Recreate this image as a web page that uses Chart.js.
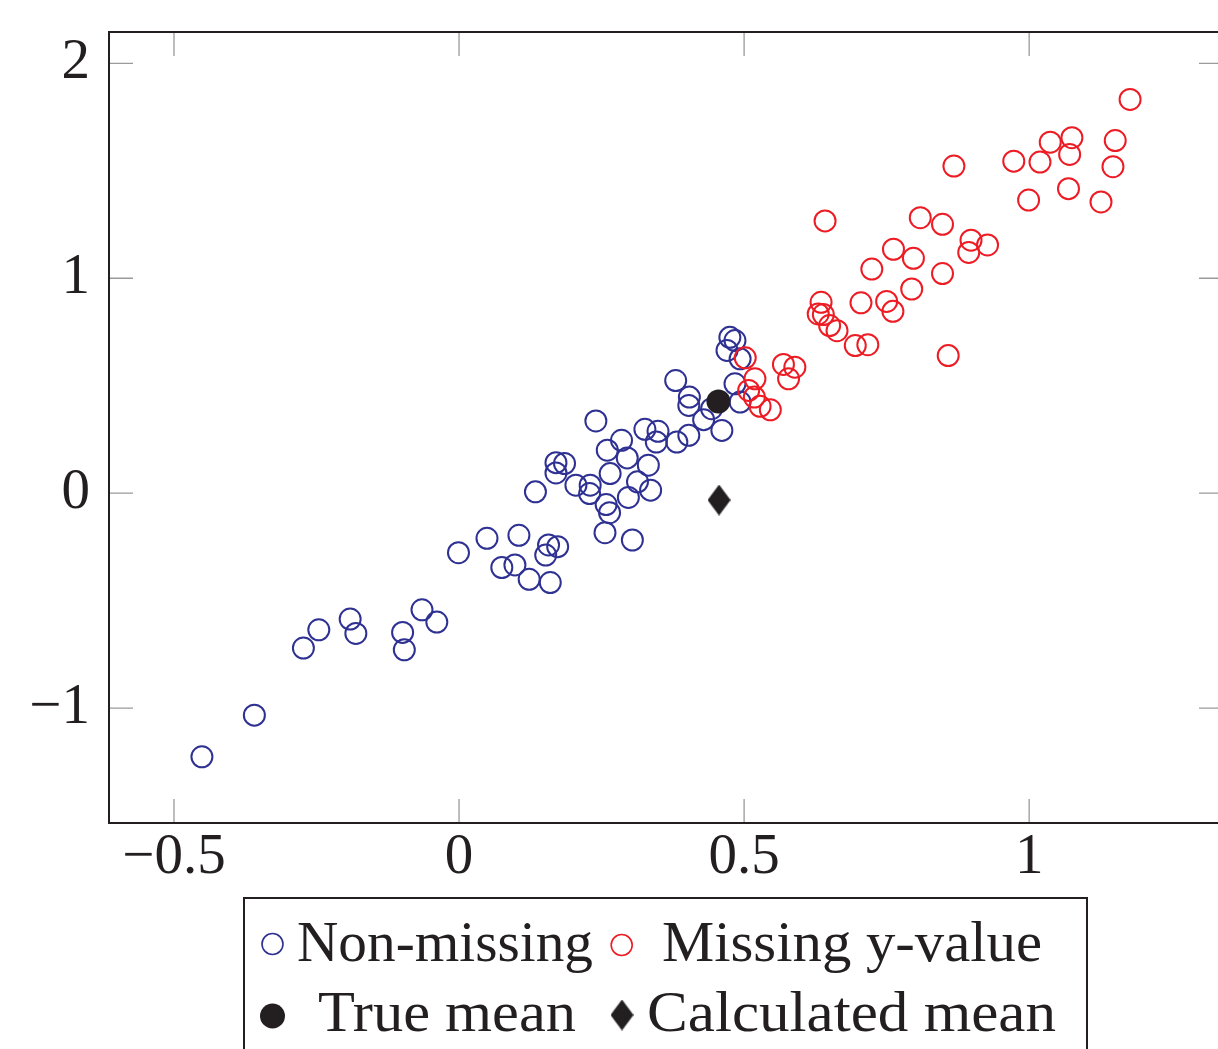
<!DOCTYPE html>
<html><head><meta charset="utf-8">
<script src="https://cdn.jsdelivr.net/npm/chart.js@4.4.0/dist/chart.umd.min.js"></script>
<style>
html,body{margin:0;padding:0;overflow:hidden;background:#fff;width:1218px;height:1049px}
#wrap{position:absolute;left:0;top:0;width:1240px;height:1049px}
</style>
</head><body>
<div id="wrap"><canvas id="c" width="1240" height="1049"></canvas></div>
<script>
// ---- data ----
const nonMissingX = [-0.451,-0.359,-0.273,-0.246,-0.191,-0.181,-0.099,-0.096,-0.065,-0.039,
  -0.001,0.049,0.105,0.075,0.098,0.123,0.160,0.157,0.173,0.152,
  0.134,0.170,0.185,0.170,0.205,0.230,0.229,0.240,0.260,0.285,
  0.295,0.265,0.258,0.264,0.256,0.304,0.297,0.313,0.332,0.336,
  0.326,0.349,0.346,0.382,0.403,0.380,0.404,0.403,0.429,0.443,
  0.461,0.475,0.484,0.470,0.493,0.484,0.493];
const nonMissingY = [-1.227,-1.033,-0.721,-0.636,-0.586,-0.653,-0.648,-0.729,-0.543,-0.600,
  -0.277,-0.210,-0.196,-0.346,-0.334,-0.401,-0.416,-0.241,-0.249,-0.288,
  0.006,0.142,0.138,0.094,0.037,0.037,-0.002,0.336,0.200,0.246,
  0.164,0.091,-0.053,-0.091,-0.184,-0.218,-0.020,0.053,0.130,0.014,
  0.297,0.288,0.238,0.238,0.269,0.524,0.447,0.408,0.342,0.393,
  0.292,0.725,0.710,0.664,0.625,0.509,0.424];
const missingX = [0.502,0.519,0.508,0.518,0.528,0.546,0.569,0.589,0.578,0.630,
  0.635,0.639,0.650,0.663,0.695,0.717,0.858,0.705,0.750,0.761,
  0.794,0.724,0.848,0.762,0.797,0.898,0.927,0.894,0.642,0.809,
  0.848,0.868,0.973,1.019,0.999,1.177,1.037,1.075,1.071,1.151,
  1.147,1.069,1.126];
const missingY = [0.630,0.532,0.478,0.447,0.404,0.388,0.599,0.586,0.532,0.834,
  0.888,0.831,0.780,0.756,0.687,0.691,0.640,0.886,0.892,0.846,
  0.950,1.043,1.022,1.135,1.093,1.177,1.155,1.120,1.267,1.282,
  1.251,1.522,1.545,1.541,1.364,1.832,1.633,1.654,1.576,1.641,
  1.519,1.417,1.355];
const trueMean = {x: 0.455, y: 0.427};
const calculatedMean = {x: 0.456, y: -0.032};
const xTicks = [-0.5, 0, 0.5, 1];
const yTicks = [-1, 0, 1, 2];
const seriesLabels = ['Non-missing', 'Missing y-value', 'True mean', 'Calculated mean'];

// ---- styles ----
const BLUE = '#2e3192', RED = '#ed1c24', BLACK = '#231f20';
const FONT = '"Liberation Serif", "Times New Roman", serif';

function makeDiamond(w, h) {
  const cv = document.createElement('canvas');
  cv.width = w; cv.height = h;
  const g = cv.getContext('2d');
  g.fillStyle = BLACK;
  g.beginPath();
  g.moveTo(w/2, 0); g.lineTo(w, h/2); g.lineTo(w/2, h); g.lineTo(0, h/2);
  g.closePath(); g.fill();
  return cv;
}
const diamond = makeDiamond(23, 31);

const toPts = (xs, ys) => xs.map((v, i) => ({x: v, y: ys[i]}));
const fmt = v => String(v).replace('-', '\u2212');

const frameTicks = {
  id: 'frameTicks',
  beforeDatasetsDraw(chart) {
    const {ctx, chartArea: a, scales: {x, y}} = chart;
    ctx.save();
    ctx.strokeStyle = '#9a9a9a'; ctx.lineWidth = 1.3;
    ctx.beginPath();
    xTicks.forEach(v => { const p = x.getPixelForValue(v);
      ctx.moveTo(p, a.bottom); ctx.lineTo(p, a.bottom - 24);
      ctx.moveTo(p, a.top); ctx.lineTo(p, a.top + 24); });
    yTicks.forEach(v => { const p = y.getPixelForValue(v);
      ctx.moveTo(a.left, p); ctx.lineTo(a.left + 24, p);
      ctx.moveTo(a.right, p); ctx.lineTo(a.right - 24, p); });
    ctx.stroke();
    ctx.restore();
  },
  afterDatasetsDraw(chart) {
    const {ctx, chartArea: a} = chart;
    ctx.save();
    ctx.strokeStyle = BLACK; ctx.lineWidth = 2;
    ctx.strokeRect(a.left, a.top, a.right - a.left, a.bottom - a.top);
    ctx.restore();
  }
};

const boxLegend = {
  id: 'boxLegend',
  afterDraw(chart) {
    const ctx = chart.ctx;
    const ds = chart.data.datasets;
    ctx.save();
    ctx.strokeStyle = BLACK; ctx.lineWidth = 2;
    ctx.strokeRect(244, 898, 843, 200);
    ctx.lineWidth = 1.6;
    ctx.strokeStyle = BLUE; ctx.beginPath(); ctx.arc(272.5, 944, 10.5, 0, Math.PI*2); ctx.stroke();
    ctx.strokeStyle = RED; ctx.beginPath(); ctx.arc(621.7, 945, 10.5, 0, Math.PI*2); ctx.stroke();
    ctx.fillStyle = BLACK; ctx.beginPath(); ctx.arc(272.5, 1016, 12.5, 0, Math.PI*2); ctx.fill();
    ctx.drawImage(diamond, 622 - 11.5, 1015 - 15.5);
    const items = [
      {t: ds[0].label, x: 297, y: 961, w: 296},
      {t: ds[1].label, x: 662, y: 961, w: 380},
      {t: ds[2].label, x: 318, y: 1031, w: 258},
      {t: ds[3].label, x: 647, y: 1031, w: 409}
    ];
    ctx.fillStyle = BLACK;
    ctx.font = '57px ' + FONT;
    ctx.textBaseline = 'alphabetic'; ctx.textAlign = 'left';
    items.forEach(it => {
      const m = ctx.measureText(it.t).width;
      ctx.save();
      ctx.translate(it.x, it.y);
      ctx.scale(it.w / m, 1);
      ctx.fillText(it.t, 0, 0);
      ctx.restore();
    });
    ctx.restore();
  }
};

new Chart(document.getElementById('c'), {
  type: 'scatter',
  data: {
    datasets: [
      {label: seriesLabels[0], data: toPts(nonMissingX, nonMissingY), order: 3,
       pointStyle: 'circle', pointRadius: 10.5, pointBorderWidth: 2, borderColor: BLUE, backgroundColor: 'rgba(0,0,0,0)'},
      {label: seriesLabels[1], data: toPts(missingX, missingY), order: 2,
       pointStyle: 'circle', pointRadius: 10.5, pointBorderWidth: 2, borderColor: RED, backgroundColor: 'rgba(0,0,0,0)'},
      {label: seriesLabels[2], data: [trueMean], order: 0,
       pointStyle: 'circle', pointRadius: 12, pointBorderWidth: 0, borderColor: BLACK, backgroundColor: BLACK},
      {label: seriesLabels[3], data: [calculatedMean], order: 1,
       pointStyle: diamond, pointRadius: 12, pointBorderWidth: 0, borderColor: BLACK, backgroundColor: BLACK}
    ]
  },
  options: {
    responsive: false, animation: false, devicePixelRatio: 1,
    layout: {padding: {top: 32, right: 17, left: 0, bottom: 0}},
    plugins: {legend: {display: false}, tooltip: {enabled: false}},
    events: [],
    scales: {
      x: {
        type: 'linear', min: -0.614, max: 1.340,
        afterBuildTicks: s => { s.ticks = xTicks.map(v => ({value: v})); },
        afterFit: s => { s.height = 226; s.paddingLeft = 0; s.paddingRight = 0; },
        grid: {display: false, drawTicks: false}, border: {display: false},
        ticks: {padding: 7, color: BLACK, autoSkip: false, maxRotation: 0,
          font: {family: FONT, size: 57, lineHeight: 1}, callback: v => fmt(v)}
      },
      y: {
        type: 'linear', min: -1.535, max: 2.146,
        afterBuildTicks: s => { s.ticks = yTicks.map(v => ({value: v})); },
        afterFit: s => { s.width = 109; s.paddingTop = 0; s.paddingBottom = 0; },
        grid: {display: false, drawTicks: false}, border: {display: false},
        ticks: {padding: 19, color: BLACK, autoSkip: false,
          font: {family: FONT, size: 57, lineHeight: 1}, callback: v => fmt(v)}
      }
    }
  },
  plugins: [frameTicks, boxLegend]
});
</script>
</body></html>
